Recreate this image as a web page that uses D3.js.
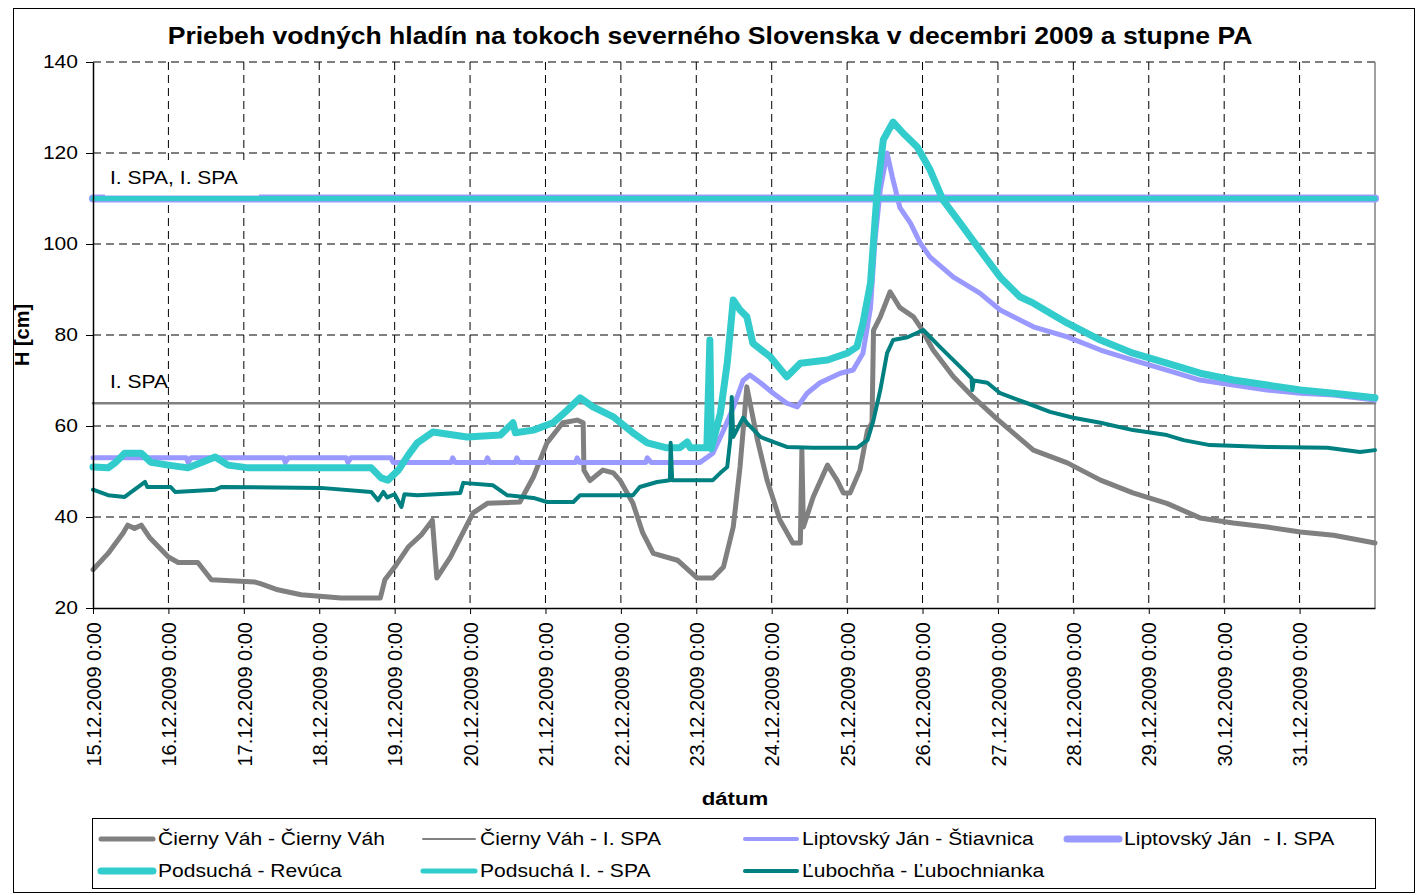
<!DOCTYPE html>
<html>
<head>
<meta charset="utf-8">
<script src="https://cdn.jsdelivr.net/npm/d3@7"></script>
<style>
  body { margin: 0; background: #fff; }
  text { font-family: "Liberation Sans", Arial, sans-serif; white-space: pre; }
</style>
</head>
<body>
<div class="chart"></div>
<script>
// values: [day of December (fraction = time of day), H in cm]
const cierny = [
  [15.00, 28.4], [15.20, 32], [15.40, 36.5], [15.46, 38.2], [15.55, 37.5], [15.64, 38.2], [15.75, 35.5],
  [16.00, 31.2], [16.13, 30], [16.39, 30], [16.57, 26.2], [17.15, 25.7], [17.23, 25.3], [17.45, 24],
  [17.76, 22.9], [18.29, 22.2], [18.81, 22.2], [18.87, 26.2], [19.00, 29], [19.18, 33.4], [19.35, 36],
  [19.50, 39.3], [19.56, 26.6], [19.74, 31.2], [20.04, 40.9], [20.23, 43], [20.66, 43.3], [20.84, 48.8],
  [21.02, 56.3], [21.23, 60.7], [21.42, 61.3], [21.50, 60.7], [21.51, 50.3], [21.59, 48], [21.76, 50.3],
  [21.90, 49.7], [21.99, 48], [22.16, 43], [22.29, 36.5], [22.43, 32], [22.75, 30.5], [23.01, 26.6],
  [23.22, 26.6], [23.36, 29], [23.49, 37.8], [23.58, 51], [23.67, 68.6], [23.81, 57], [23.94, 48],
  [24.11, 39.3], [24.28, 34.3], [24.38, 34.3], [24.40, 54.7], [24.42, 37.8], [24.55, 44.4], [24.74, 51.4],
  [24.87, 48], [24.95, 45.3], [25.04, 45.3], [25.17, 50.3], [25.27, 59], [25.33, 60.7], [25.35, 81],
  [25.44, 84], [25.57, 89.5], [25.70, 86], [25.88, 84], [25.97, 81.8], [26.14, 76.7], [26.41, 70.8],
  [26.67, 66.4], [26.99, 61.5], [27.47, 54.7], [27.92, 51.9], [28.36, 48.1], [28.79, 45.3], [29.24, 43],
  [29.68, 39.8], [30.12, 38.7], [30.57, 37.8], [31.01, 36.7], [31.45, 36], [32.00, 34.3]
];

const liptov = [
  [15.00, 53], [16.24, 53], [16.26, 52], [16.30, 53], [17.53, 53], [17.55, 52], [17.59, 53],
  [18.36, 53], [18.38, 52], [18.42, 53], [18.95, 53], [18.98, 52], [19.75, 52], [19.77, 53],
  [19.80, 52], [20.21, 52], [20.23, 53], [20.26, 52], [20.60, 52], [20.62, 53], [20.65, 52],
  [21.40, 52], [21.42, 53], [21.45, 52], [22.33, 52], [22.35, 53], [22.40, 52], [23.05, 52],
  [23.22, 54], [23.36, 59], [23.49, 64], [23.62, 70], [23.71, 71.2], [23.85, 69.5], [24.02, 67.2],
  [24.20, 65], [24.34, 64.2], [24.47, 67.2], [24.64, 69.5], [24.91, 71.6], [25.08, 72.3], [25.21, 76],
  [25.31, 86], [25.37, 100.9], [25.44, 111.9], [25.53, 120], [25.60, 114.7], [25.70, 108],
  [25.84, 104.6], [25.97, 100.2], [26.10, 97.1], [26.41, 92.7], [26.76, 89.2], [27.03, 85.5],
  [27.47, 81.8], [27.92, 79.6], [28.36, 76.7], [28.79, 74.5], [29.24, 72.3], [29.68, 70.1],
  [30.12, 69], [30.57, 67.9], [31.01, 67.2], [31.45, 66.8], [32.00, 65.7]
];

const podsucha = [
  [15.00, 51], [15.20, 50.8], [15.30, 52], [15.42, 54], [15.64, 54], [15.77, 52], [16.00, 51.4],
  [16.26, 50.8], [16.43, 51.9], [16.62, 53.2], [16.79, 51.4], [17.06, 50.8], [17.28, 50.8],
  [18.69, 50.8], [18.82, 48.6], [18.91, 48.1], [19.05, 50.3], [19.18, 53.6], [19.30, 56.3],
  [19.51, 58.7], [19.96, 57.6], [20.40, 58], [20.57, 60.7], [20.60, 58.5], [20.84, 59.1],
  [21.10, 60.7], [21.29, 63.5], [21.46, 66.2], [21.63, 64.2], [21.90, 62], [22.16, 58.5],
  [22.35, 56.3], [22.61, 55.2], [22.78, 55.2], [22.88, 56.5], [22.92, 55.2], [23.14, 55.2],
  [23.18, 78.9], [23.20, 55], [23.32, 62.9], [23.41, 73.8], [23.49, 87.7], [23.58, 85.5],
  [23.67, 84], [23.75, 78.2], [23.98, 75.2], [24.20, 70.8], [24.38, 73.8], [24.74, 74.5],
  [25.00, 76], [25.13, 77.4], [25.21, 82.6], [25.31, 91.4], [25.40, 111.9], [25.48, 122.9],
  [25.61, 126.8], [25.74, 124.4], [25.93, 121.3], [26.10, 116.3], [26.27, 109.7], [26.50, 104.6],
  [26.76, 98.7], [27.03, 92.7], [27.29, 88.4], [27.47, 87], [27.92, 82.6], [28.36, 78.9],
  [28.79, 76], [29.24, 73.8], [29.68, 71.6], [30.12, 70.1], [30.57, 69], [31.01, 67.9],
  [31.45, 67.2], [32.00, 66.2]
];

const lubochna = [
  [15.00, 46], [15.20, 44.8], [15.42, 44.4], [15.60, 46.6], [15.69, 47.7], [15.72, 46.6],
  [16.03, 46.6], [16.09, 45.5], [16.62, 46], [16.70, 46.6], [18.02, 46.4], [18.69, 45.5],
  [18.78, 43.7], [18.85, 45.5], [18.90, 44.3], [19.00, 45], [19.09, 42.2], [19.13, 45],
  [19.30, 44.8], [19.87, 45.3], [19.91, 47.5], [20.30, 47], [20.49, 44.8], [20.84, 44.2],
  [21.02, 43.3], [21.37, 43.3], [21.46, 44.8], [22.16, 44.8], [22.25, 46.6], [22.48, 47.7],
  [22.65, 48.1], [22.66, 56.3], [22.68, 48.1], [23.22, 48.1], [23.32, 49.7], [23.41, 51],
  [23.45, 56.9], [23.47, 66.4], [23.49, 57.6], [23.62, 61.8], [23.67, 60.7], [23.85, 57.6],
  [24.02, 56.5], [24.20, 55.4], [24.55, 55.2], [25.13, 55.2], [25.27, 56.9], [25.35, 61.3],
  [25.44, 67.9], [25.53, 76], [25.61, 78.9], [25.80, 79.5], [26.01, 81.1], [26.23, 77.4],
  [26.50, 73], [26.65, 70.5], [26.66, 67.9], [26.68, 70], [26.86, 69.5], [27.03, 67.2],
  [27.39, 65], [27.69, 63.1], [28.00, 61.8], [28.36, 60.7], [28.79, 59.1], [29.24, 58],
  [29.46, 56.9], [29.81, 55.8], [30.57, 55.4], [31.37, 55.2], [31.80, 54.3], [32.00, 54.7]
];

// flood alert levels (I. SPA)
const spaCierny = 65;
const spaLiptov = 110;
const spaPodsucha = 110;

const yTicks = [20, 40, 60, 80, 100, 120, 140];
const legendNames = [
  "Čierny Váh - Čierny Váh", "Čierny Váh - I. SPA", "Liptovský Ján - Štiavnica", "Liptovský Ján  - I. SPA",
  "Podsuchá - Revúca", "Podsuchá I. - SPA", "Ľubochňa - Ľubochnianka"
];

const width = 1421, height = 895;
const margin = { top: 62, right: 46, bottom: 287, left: 93 };
const SX = 1.17; // horizontal stretch of the text in the picture

const svg = d3.select(".chart").append("svg")
  .attr("width", width)
  .attr("height", height);

const toDate = d => new Date(new Date(2009, 11, 15).getTime() + (d - 15) * 864e5);

const x = d3.scaleTime()
  .domain([toDate(15), toDate(32)])
  .range([margin.left, width - margin.right]);
const y = d3.scaleLinear()
  .domain([20, 140])
  .range([height - margin.bottom, margin.top]);

// outer frame
svg.append("rect")
  .attr("x", 13.5).attr("y", 8.5)
  .attr("width", 1401).attr("height", 884)
  .attr("fill", "none").attr("stroke", "#000").attr("stroke-width", 1);

// gridlines
const days = d3.timeDay.range(toDate(15), toDate(32));
svg.append("g").selectAll("line")
  .data(days.slice(1))
  .join("line")
  .attr("x1", d => x(d)).attr("x2", d => x(d))
  .attr("y1", y(140)).attr("y2", y(20))
  .attr("stroke", "#000").attr("stroke-dasharray", "8,5");
svg.append("g").selectAll("line")
  .data(yTicks.slice(1))
  .join("line")
  .attr("x1", x.range()[0]).attr("x2", x.range()[1])
  .attr("y1", d => y(d)).attr("y2", d => y(d))
  .attr("stroke", "#000").attr("stroke-dasharray", "8,5");

// right border of the plot area
svg.append("line")
  .attr("x1", x.range()[1]).attr("x2", x.range()[1])
  .attr("y1", y(140)).attr("y2", y(20))
  .attr("stroke", "#808080").attr("stroke-width", 1.5);

const line = d3.line()
  .x(d => x(toDate(d[0])))
  .y(d => y(d[1]));

const flat = v => [[15, v], [32, v]];

const series = [
  { data: cierny, color: "#808080", w: 5 },
  { data: flat(spaCierny), color: "#808080", w: 2.5 },
  { data: liptov, color: "#9999FF", w: 5 },
  { data: flat(spaLiptov), color: "#9999FF", w: 8 },
  { data: podsucha, color: "#33CCCC", w: 7 },
  { data: flat(spaPodsucha), color: "#33CCCC", w: 5 },
  { data: lubochna, color: "#008080", w: 4 }
];

svg.append("g").selectAll("path")
  .data(series)
  .join("path")
  .attr("d", d => line(d.data))
  .attr("fill", "none")
  .attr("stroke", d => d.color)
  .attr("stroke-width", d => d.w)
  .attr("stroke-linejoin", "round")
  .attr("stroke-linecap", "round");

// labels on the alert lines
svg.append("rect")
  .attr("x", 105).attr("y", 160).attr("width", 154).attr("height", 35.5)
  .attr("fill", "#fff");

function stretched(g, tx, ty, str) {
  return g.append("text")
    .attr("transform", `translate(${tx},${ty}) scale(${SX},1)`)
    .text(str);
}

stretched(svg, 110, 184, "I. SPA, I. SPA").attr("font-size", 18);
stretched(svg, 110, 388, "I. SPA").attr("font-size", 18);

// axes
const yAxis = svg.append("g")
  .attr("transform", `translate(${margin.left},0)`)
  .call(d3.axisLeft(y).tickValues(yTicks).tickSize(7).tickSizeOuter(0));
yAxis.select(".domain").attr("stroke-width", 1.5);
yAxis.selectAll("text")
  .attr("font-family", "Liberation Sans, Arial, sans-serif")
  .attr("font-size", 18)
  .attr("fill", "#000")
  .attr("x", -15 / SX)
  .attr("transform", `scale(${SX},1)`);

const fmt = d3.timeFormat("%-d.%m.%Y %-H:%M");
const xAxis = svg.append("g")
  .attr("transform", `translate(0,${y(20)})`)
  .call(d3.axisBottom(x).tickValues(days).tickFormat(fmt).tickSize(6).tickSizeOuter(0));
xAxis.select(".domain").attr("stroke-width", 1.5);
xAxis.selectAll("text")
  .attr("font-family", "Liberation Sans, Arial, sans-serif")
  .attr("font-size", 20)
  .attr("fill", "#000")
  .attr("transform", "rotate(-90)")
  .attr("text-anchor", "end")
  .attr("x", -14)
  .attr("y", 0)
  .attr("dy", "0.36em");

// titles
const title = svg.append("text")
  .attr("font-size", 23)
  .attr("font-weight", "bold")
  .attr("text-anchor", "middle")
  .text("Priebeh vodných hladín na tokoch severného Slovenska v decembri 2009 a stupne PA");
const tl = title.node().getComputedTextLength();
title.attr("transform", `translate(710,44) scale(${1085 / tl},1)`);

stretched(svg, 735, 805, "dátum")
  .attr("font-size", 19)
  .attr("font-weight", "bold")
  .attr("text-anchor", "middle");

svg.append("text")
  .attr("transform", "translate(29,335) rotate(-90)")
  .attr("font-size", 20)
  .attr("font-weight", "bold")
  .attr("text-anchor", "middle")
  .text("H [cm]");

// legend
const legend = svg.append("g");
legend.append("rect")
  .attr("x", 92.5).attr("y", 818.5)
  .attr("width", 1283).attr("height", 70)
  .attr("fill", "#fff").attr("stroke", "#000");

const legendW = [5, 2, 4, 7, 7, 5, 4];
const item = legend.selectAll("g.item")
  .data(series.map((s, i) => ({ name: legendNames[i], color: s.color, w: legendW[i], i })))
  .join("g")
  .attr("class", "item")
  .attr("transform", d => `translate(${101 + (d.i % 4) * 322},${d.i < 4 ? 839 : 871})`);
item.append("line")
  .attr("x1", 0).attr("x2", 52)
  .attr("stroke", d => d.color)
  .attr("stroke-width", d => d.w)
  .attr("stroke-linecap", "round");
item.append("text")
  .attr("font-size", 18)
  .attr("dy", "0.35em")
  .attr("transform", `translate(57,0) scale(${SX},1)`)
  .text(d => d.name);
</script>
</body>
</html>
